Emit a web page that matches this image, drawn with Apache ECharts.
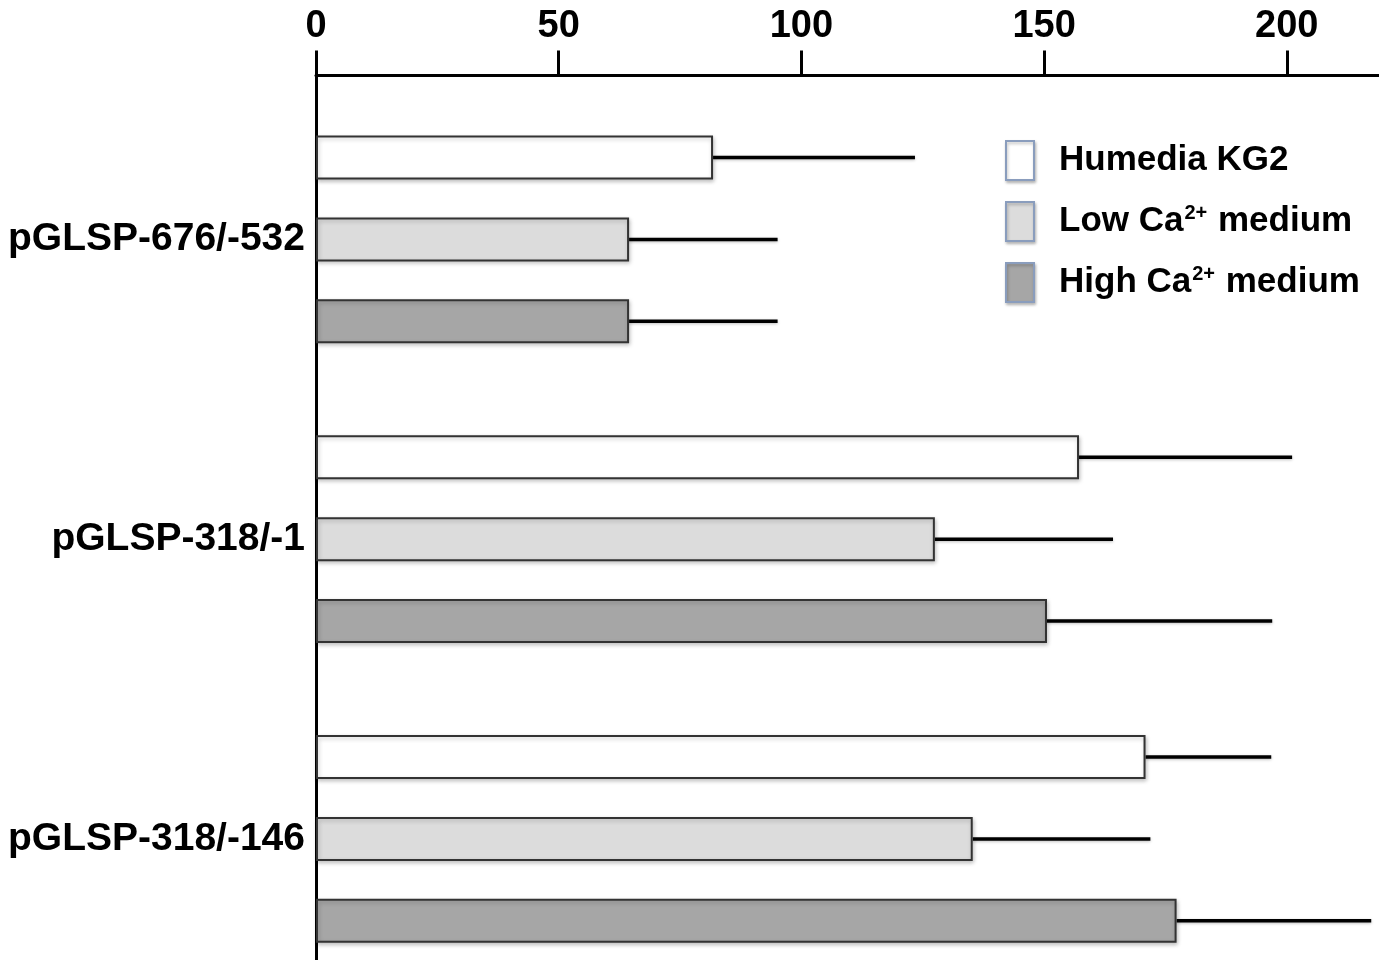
<!DOCTYPE html>
<html>
<head>
<meta charset="utf-8">
<script src="https://cdn.jsdelivr.net/npm/echarts@6/dist/echarts.min.js"></script>
<style>html,body{margin:0;padding:0;background:#fff;}#c{width:1379px;height:960px;}</style>
</head>
<body>
<div id="c"></div>
<script>
var categories = ['pGLSP-676/-532', 'pGLSP-318/-1', 'pGLSP-318/-146'];
var seriesNames = ['Humedia KG2', 'Low Ca2+ medium', 'High Ca2+ medium'];
var humediaMean = [81.8, 157.2, 170.9];
var humediaSD = [41.6, 43.9, 25.9];
var lowCaMean = [64.5, 127.5, 135.3];
var lowCaSD = [30.6, 36.7, 36.6];
var highCaMean = [64.5, 150.6, 177.3];
var highCaSD = [30.6, 46.4, 40.1];
var xTicks = [0, 50, 100, 150, 200];

var means = [humediaMean, lowCaMean, highCaMean];
var sds = [humediaSD, lowCaSD, highCaSD];
var fills = ['#ffffff', '#dcdcdc', '#a6a6a6'];
var FONT = '"Liberation Sans", Arial, sans-serif';
var BAR_W = 44, BAR_GAP = 0.86;

var chart = echarts.init(document.getElementById('c'));
var series = [];
for (var i = 0; i < 3; i++) {
  series.push({
    name: seriesNames[i], type: 'bar', xAxisIndex: 0, yAxisIndex: 0,
    data: means[i], barWidth: BAR_W, barGap: (BAR_GAP * 100) + '%',
    itemStyle: { color: fills[i], borderColor: '#333', borderWidth: 2,
      shadowBlur: 4, shadowColor: 'rgba(0,0,0,0.22)', shadowOffsetX: 1, shadowOffsetY: 2 },
    silent: true, z: 2
  });
}
for (var j = 0; j < 3; j++) {
  (function (k) {
    var d = categories.map(function (c, idx) { return [means[k][idx], idx, means[k][idx] + sds[k][idx]]; });
    series.push({
      type: 'custom', xAxisIndex: 0, yAxisIndex: 0, silent: true, z: 1,
      data: d,
      encode: { x: [0, 2], y: 1 },
      renderItem: function (params, api) {
        var p0 = api.coord([api.value(0), api.value(1)]);
        var p1 = api.coord([api.value(2), api.value(1)]);
        var off = (k - 1) * BAR_W * (1 + BAR_GAP);
        return { type: 'line', shape: { x1: p0[0], y1: p0[1] + off, x2: p1[0], y2: p1[1] + off },
          style: { stroke: '#000', lineWidth: 3.5, shadowBlur: 3, shadowColor: 'rgba(0,0,0,0.25)', shadowOffsetY: 1 } };
      }
    });
  })(j);
}

var option = {
  backgroundColor: '#fff',
  animation: false,
  grid: [
    { left: 316, right: 0, top: 89.5, height: 899.25, containLabel: false, outerBoundsMode: 'none' },
    { left: 316, right: 0, top: 75.5, bottom: 0, containLabel: false, outerBoundsMode: 'none' }
  ],
  legend: {
    orient: 'vertical', left: 1005, top: 140, padding: 0,
    icon: 'rect', itemWidth: 28, itemHeight: 39, itemGap: 20,
    data: seriesNames,
    itemStyle: { borderColor: '#8a9dbd', borderWidth: 2, shadowBlur: 3, shadowColor: 'rgba(0,0,0,0.25)', shadowOffsetX: 1, shadowOffsetY: 2 },
    selectedMode: false,
    formatter: function (name) {
      var m = name.split('2+');
      if (m.length === 2) return '{n|' + m[0] + '}{s|2+}{n|' + m[1] + '}';
      return '{n|' + name + '}';
    },
    textStyle: {
      padding: [0, 0, 0, 20],
      rich: {
        n: { fontFamily: FONT, fontWeight: 'bold', fontSize: 35, color: '#000', lineHeight: 36 },
        s: { fontFamily: FONT, fontWeight: 'bold', fontSize: 20, color: '#000', verticalAlign: 'top', lineHeight: 30, padding: [0, 1, 0, 1] }
      }
    }
  },
  xAxis: [
    { type: 'value', gridIndex: 0, position: 'top', offset: 14, min: 0, max: 219, interval: 50,
      axisLine: { show: true, lineStyle: { color: '#000', width: 3 } },
      axisTick: { show: true, length: 25, customValues: xTicks, lineStyle: { color: '#000', width: 3 } },
      axisLabel: { margin: 30, color: '#000', fontFamily: FONT, fontWeight: 'bold', fontSize: 38, customValues: xTicks },
      splitLine: { show: false } },
    { type: 'value', gridIndex: 1, min: 0, max: 219, show: false }
  ],
  yAxis: [
    { type: 'category', gridIndex: 0, inverse: true, data: categories,
      axisLine: { show: false }, axisTick: { show: false },
      axisLabel: { margin: 11, color: '#000', fontFamily: FONT, fontWeight: 'bold', fontSize: 39 } },
    { type: 'value', gridIndex: 1, min: 0, max: 1,
      axisLine: { show: true, lineStyle: { color: '#000', width: 3 } },
      axisTick: { show: false }, axisLabel: { show: false }, splitLine: { show: false } }
  ],
  series: series
};
chart.setOption(option);
</script>
</body>
</html>
